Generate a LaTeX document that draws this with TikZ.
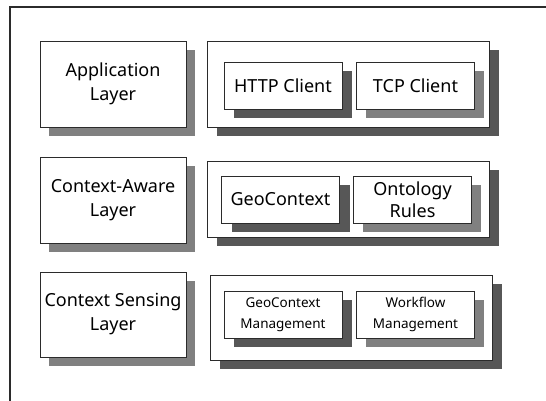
\documentclass[tikz,border=0pt]{standalone}
\usepackage{fontspec}
\setmainfont{Noto Sans}
\usetikzlibrary{shadows}

\definecolor{lightshade}{HTML}{808080}
\definecolor{darkshade}{HTML}{575757}
\definecolor{edge}{HTML}{2B2B2B}

\tikzset{
    box/.style={draw=edge, line width=0.8pt, fill=white, align=center, inner sep=0pt},
    lightbox/.style={box, drop shadow={shadow xshift=9pt, shadow yshift=-9pt, fill=lightshade, opacity=1}},
    darkbox/.style={box, drop shadow={shadow xshift=10pt, shadow yshift=-9pt, fill=darkshade, opacity=1}},
    bigtext/.style={font=\fontsize{18}{24}\selectfont},
    smalltext/.style={font=\fontsize{13.5}{21}\selectfont},
}

\begin{document}
\begin{tikzpicture}[x=1pt, y=-1pt]
% Parameters
\def\layerw{146}
\def\groupw{282}
\def\itemw{118}
\def\itemh{47}

\useasboundingbox (0,0) rectangle (546,401);

% Frame
\draw[edge, line width=1.2pt] (546,7) -- (10,7) -- (10,401);

% Layer boxes on the left
\node[lightbox, bigtext, minimum width=\layerw, minimum height=86] (app) at (113,84) {Application\\Layer};
\node[lightbox, bigtext, minimum width=\layerw, minimum height=86] (aware) at (113,200) {Context-Aware\\Layer};
\node[lightbox, bigtext, minimum width=\layerw, minimum height=85] (sense) at (113,314.5) {Context Sensing\\Layer};

% Group boxes on the right
\node[darkbox, minimum width=\groupw, minimum height=86] (appgroup) at (348,84) {};
\node[darkbox, minimum width=\groupw, minimum height=76] (awaregroup) at (348,199) {};
\node[darkbox, minimum width=\groupw, minimum height=85] (sensegroup) at (351,317.5) {};

% Application layer items
\node[darkbox, bigtext, minimum width=\itemw, minimum height=\itemh] (http) at (283,85.5) {HTTP Client};
\node[lightbox, bigtext, minimum width=\itemw, minimum height=\itemh] (tcp) at (415.5,85.5) {TCP Client};

% Context-aware layer items
\node[darkbox, bigtext, minimum width=\itemw, minimum height=\itemh] (geo) at (280.5,199.5) {GeoContext};
\node[lightbox, font=\fontsize{18}{22}\selectfont, minimum width=\itemw, minimum height=\itemh] (onto) at (412.5,199.5) {Ontology\\Rules};

% Context sensing layer items
\node[darkbox, smalltext, minimum width=\itemw, minimum height=\itemh] (geomgmt) at (283,314.5) {GeoContext\\Management};
\node[lightbox, smalltext, minimum width=\itemw, minimum height=\itemh] (flow) at (415.5,314.5) {Workflow\\Management};
\end{tikzpicture}
\end{document}
